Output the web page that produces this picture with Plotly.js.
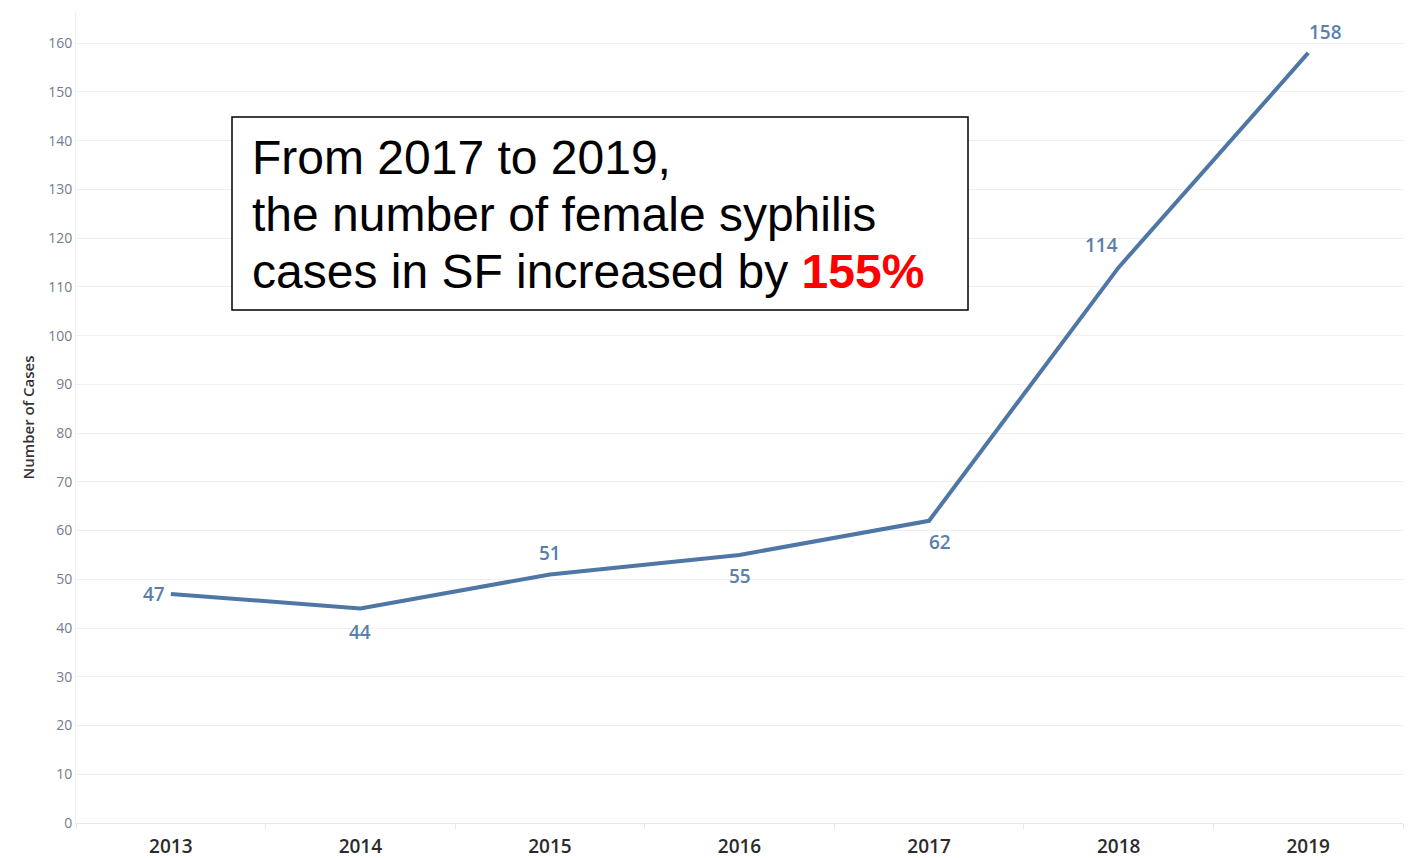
<!DOCTYPE html>
<html>
<head>
<meta charset="utf-8">
<script src="https://cdn.plot.ly/plotly-3.0.1.min.js"></script>
<style>html,body{margin:0;padding:0;background:#fff;}#chart{width:1416px;height:858px;}</style>
</head>
<body>
<div id="chart"></div>
<script>
const years = [2013, 2014, 2015, 2016, 2017, 2018, 2019];
const cases = [47, 44, 51, 55, 62, 114, 158];
const yTicks = [0, 10, 20, 30, 40, 50, 60, 70, 80, 90, 100, 110, 120, 130, 140, 150, 160];
const boxLines = ['From 2017 to 2019,', 'the number of female syphilis', 'cases in SF increased by '];
const boxHighlight = '155%';

// label placement (pixel offsets from each point)
const labelShift = [[-17, 0], [0, -23], [0, 21], [0, -21], [11, -21], [-17, 22], [17, 21]];

const trace = {
  x: years,
  y: cases,
  type: 'scatter',
  mode: 'lines',
  line: {color: '#4e77a5', width: 4},
  hoverinfo: 'skip'
};

const L = 76, R = 1403, T = 12, B = 823;
const W = R - L, H = B - T;
const px = v => (v - L) / W;
const py = v => (B - v) / H;

const labelAnns = years.map((yr, i) => ({
  x: yr, y: cases[i], xref: 'x', yref: 'y',
  text: String(cases[i]), showarrow: false,
  xanchor: 'center', yanchor: 'middle',
  xshift: labelShift[i][0], yshift: labelShift[i][1],
  font: {family: 'Open Sans, sans-serif', size: 19, color: '#5a7fab', weight: 600}
}));

const lineCenters = [157, 214, 271];
const boxAnns = boxLines.map((t, i) => ({
  xref: 'paper', yref: 'paper',
  x: px(250), y: py(lineCenters[i]),
  xanchor: 'left', yanchor: 'middle',
  align: 'left', showarrow: false,
  text: i === 2 ? t + '<b><span style="color:#ff0000">' + boxHighlight + '</span></b>' : t,
  font: {family: 'Liberation Sans, Arial, sans-serif', size: 48, color: '#000'}
}));

const layout = {
  width: 1416, height: 858,
  margin: {l: L, r: 1416 - R, t: T, b: 858 - B, pad: 0},
  paper_bgcolor: '#fff', plot_bgcolor: '#fff',
  showlegend: false,
  xaxis: {
    range: [2012.5, 2019.5],
    tickvals: years,
    ticktext: years.map(String),
    ticks: '',
    ticklabelstandoff: 6,
    showgrid: false,
    zeroline: false,
    showline: true, linecolor: '#e8e8e8', linewidth: 1,
    tickfont: {family: 'Open Sans, sans-serif', size: 19, color: '#2b2b2b', weight: 600},
    minor: {tickvals: [2012.5, 2013.5, 2014.5, 2015.5, 2016.5, 2017.5, 2018.5, 2019.5], ticks: 'outside', ticklen: 5, tickcolor: '#e8e8e8', showgrid: false},
    fixedrange: true
  },
  yaxis: {
    range: [0, 166.4],
    tickvals: yTicks,
    ticktext: yTicks.map(String),
    ticks: '',
    showgrid: true, gridcolor: '#f0f0f0', gridwidth: 1,
    zeroline: false,
    showline: true, linecolor: '#f0f0f0', linewidth: 1,
    tickfont: {family: 'Open Sans, sans-serif', size: 14, color: '#727c8c'},
    title: {text: 'Number of Cases', font: {family: 'Open Sans, sans-serif', size: 15, color: '#333', weight: 600}, standoff: 9},
    fixedrange: true
  },
  shapes: [{
    type: 'rect', xref: 'paper', yref: 'paper',
    x0: px(232), x1: px(968), y0: py(310), y1: py(117),
    line: {color: '#000', width: 1.5}, fillcolor: '#fff', layer: 'above'
  }],
  annotations: labelAnns.concat(boxAnns)
};

Plotly.newPlot('chart', [trace], layout, {displayModeBar: false, staticPlot: true});
</script>
</body>
</html>
